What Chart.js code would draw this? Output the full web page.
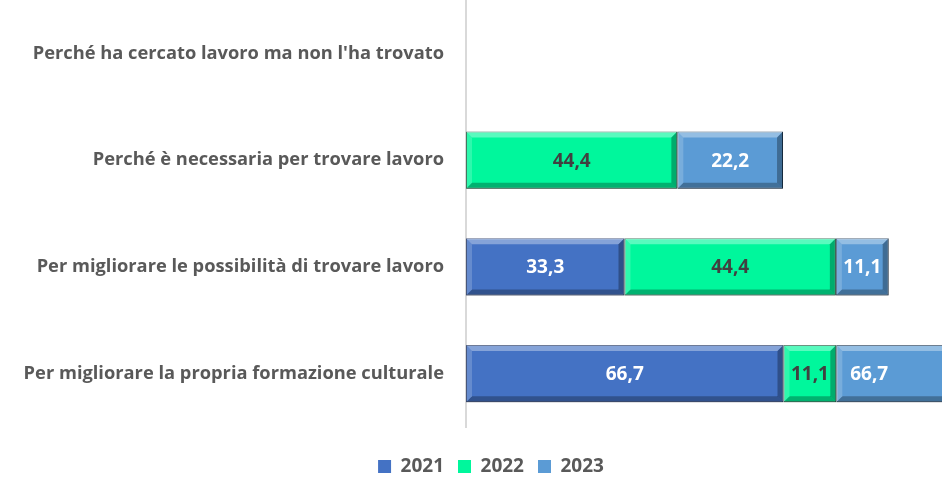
<!DOCTYPE html>
<html>
<head>
<meta charset="utf-8">
<script src="https://cdn.jsdelivr.net/npm/chart.js@4.4.1/dist/chart.umd.min.js"></script>
<style>
  html, body { margin: 0; padding: 0; background: #fff; }
  #wrap { width: 948px; height: 478px; }
</style>
</head>
<body>
<div id="wrap"><canvas id="chart"></canvas></div>
<script>
const categories = [
  "Perché ha cercato lavoro ma non l'ha trovato",
  "Perché è necessaria per trovare lavoro",
  "Per migliorare le possibilità di trovare lavoro",
  "Per migliorare la propria formazione culturale"
];
const years = ["2021", "2022", "2023"];
const values2021 = [0, 0, 33.3, 66.7];
const values2022 = [0, 44.4, 44.4, 11.1];
const values2023 = [0, 22.2, 11.1, 66.7];

const fmt = (v) => v.toFixed(1).replace(".", ",");

// bevel look on each bar, like the 3D style of the original
const bevelPlugin = {
  id: "bevel",
  afterLayout(chart) {
    // legend sits a bit right of the page centre in the original
    if (chart.legend) {
      chart.legend.left += 20;
      chart.legend.right += 20;
    }
  },
  afterDatasetDraw(chart, args) {
    const ctx = chart.ctx;
    const area = chart.chartArea;
    const meta = args.meta;
    ctx.save();
    ctx.beginPath();
    ctx.rect(area.left, area.top, area.right - area.left, area.bottom - area.top);
    ctx.clip();
    meta.data.forEach((el) => {
      const p = el.getProps(["x", "y", "base", "height"], true);
      const l = Math.min(p.x, p.base);
      const r = Math.min(Math.max(p.x, p.base), area.right + 30);
      if (r - l < 1) return;
      const t = p.y - p.height / 2;
      const b = p.y + p.height / 2;
      const s = 6;
      const poly = (pts, color) => {
        ctx.beginPath();
        ctx.moveTo(pts[0][0], pts[0][1]);
        pts.slice(1).forEach((q) => ctx.lineTo(q[0], q[1]));
        ctx.closePath();
        ctx.fillStyle = color;
        ctx.fill();
      };
      poly([[l, t], [r, t], [r - s, t + s], [l + s, t + s]], "rgba(255,255,255,0.35)");
      poly([[l, b], [r, b], [r - s, b - s], [l + s, b - s]], "rgba(0,0,0,0.28)");
      poly([[l, t], [l + s, t + s], [l + s, b - s], [l, b]], "rgba(255,255,255,0.18)");
      poly([[r, t], [r - s, t + s], [r - s, b - s], [r, b]], "rgba(0,0,0,0.3)");
    });
    ctx.restore();
  },
  afterDatasetsDraw(chart) {
    const ctx = chart.ctx;
    const area = chart.chartArea;
    ctx.save();
    ctx.font = "bold 19px 'Open Sans', sans-serif";
    ctx.textAlign = "center";
    ctx.textBaseline = "middle";
    chart.data.datasets.forEach((ds, i) => {
      const meta = chart.getDatasetMeta(i);
      meta.data.forEach((el, j) => {
        const v = ds.data[j];
        if (!v) return;
        const p = el.getProps(["x", "y", "base"], true);
        const l = Math.min(p.x, p.base);
        const r = Math.min(Math.max(p.x, p.base), area.right - 40);
        ctx.fillStyle = ds.labelColor;
        ctx.fillText(fmt(v), (l + r) / 2, p.y + 1);
      });
    });
    ctx.restore();
  }
};

const borderFor = (ctx) => (ctx.raw ? 1 : 0);

new Chart(document.getElementById("chart"), {
  type: "bar",
  data: {
    labels: categories,
    datasets: [
      {
        label: years[0],
        data: values2021,
        backgroundColor: "#4472c4",
        borderColor: "#1f3360",
        borderWidth: borderFor,
        borderSkipped: false,
        labelColor: "#ffffff"
      },
      {
        label: years[1],
        data: values2022,
        backgroundColor: "#00f79c",
        borderColor: "#1d5a3e",
        borderWidth: borderFor,
        borderSkipped: false,
        labelColor: "#404040"
      },
      {
        label: years[2],
        data: values2023,
        backgroundColor: "#5b9bd5",
        borderColor: "#1f3a55",
        borderWidth: borderFor,
        borderSkipped: false,
        labelColor: "#ffffff"
      }
    ]
  },
  options: {
    indexAxis: "y",
    responsive: true,
    maintainAspectRatio: false,
    animation: false,
    barPercentage: 0.535,
    categoryPercentage: 1,
    layout: { autoPadding: false, padding: { top: 0, right: 6, left: 0, bottom: -8 } },
    scales: {
      x: {
        stacked: true,
        min: 0,
        max: 100,
        display: true,
        grid: { display: false, drawTicks: false },
        border: { display: false },
        ticks: { display: false },
        afterFit(scale) {
          scale.height = 16;
        }
      },
      y: {
        stacked: true,
        grid: { display: false, drawTicks: false },
        border: { display: true, color: "#d9d9d9", width: 2 },
        ticks: {
          color: "#595959",
          padding: 22,
          font: { family: "'Open Sans', sans-serif", weight: "bold", size: 18.3 }
        },
        afterFit(scale) {
          scale.width = 466;
          scale.paddingTop = 0;
          scale.paddingBottom = 0;
        }
      }
    },
    plugins: {
      legend: {
        position: "bottom",
        labels: {
          color: "#595959",
          boxWidth: 13,
          boxHeight: 13,
          padding: 14,
          font: { family: "'Open Sans', sans-serif", weight: "bold", size: 19 }
        }
      },
      tooltip: { enabled: false }
    }
  },
  plugins: [bevelPlugin]
});
</script>
</body>
</html>
